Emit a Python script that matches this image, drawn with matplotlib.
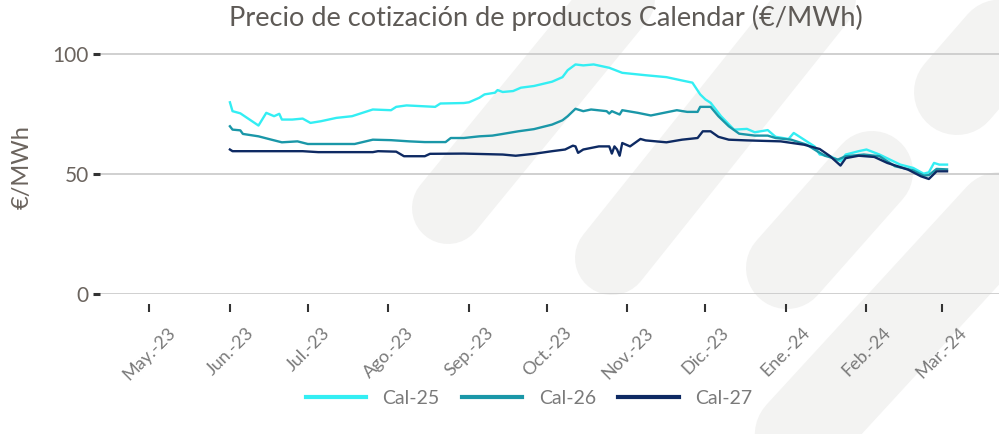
import matplotlib
matplotlib.use("Agg")
import matplotlib.pyplot as plt
from matplotlib.lines import Line2D
import pandas as pd

plt.rcParams['font.family'] = ['Lato', 'DejaVu Sans']

title = "Precio de cotización de productos Calendar (€/MWh)"
ylabel = "€/MWh"
series_names = ["Cal-25", "Cal-26", "Cal-27"]
series_colors = ["#33EEF3", "#1A97A8", "#0E2A63"]

tick_dates = ["2023-05-01", "2023-06-01", "2023-07-01", "2023-08-01", "2023-09-01",
              "2023-10-01", "2023-11-01", "2023-12-01", "2024-01-01", "2024-02-01",
              "2024-03-01"]
tick_labels = ["May.-23", "Jun.-23", "Jul.-23", "Ago.-23", "Sep.-23", "Oct.-23",
               "Nov.-23", "Dic.-23", "Ene.-24", "Feb.-24", "Mar.-24"]
y_ticks = [0, 50, 100]

dates25 = ["2023-06-01", "2023-06-02", "2023-06-05", "2023-06-12", "2023-06-15", "2023-06-18",
           "2023-06-20", "2023-06-21", "2023-06-25", "2023-06-29",
           "2023-07-02", "2023-07-06", "2023-07-12", "2023-07-18", "2023-07-26",
           "2023-08-02", "2023-08-04", "2023-08-08", "2023-08-19", "2023-08-21", "2023-08-30",
           "2023-09-01", "2023-09-05", "2023-09-07", "2023-09-11", "2023-09-12", "2023-09-14",
           "2023-09-18", "2023-09-21", "2023-09-26",
           "2023-10-03", "2023-10-07", "2023-10-09", "2023-10-12", "2023-10-15", "2023-10-19",
           "2023-10-25", "2023-10-30",
           "2023-11-08", "2023-11-16", "2023-11-22", "2023-11-26", "2023-11-29",
           "2023-12-01", "2023-12-03", "2023-12-07", "2023-12-12", "2023-12-17", "2023-12-20",
           "2023-12-25", "2023-12-28",
           "2024-01-02", "2024-01-04", "2024-01-07", "2024-01-12", "2024-01-14", "2024-01-18",
           "2024-01-22", "2024-01-24", "2024-01-29",
           "2024-02-01", "2024-02-06", "2024-02-14", "2024-02-19", "2024-02-23", "2024-02-25",
           "2024-02-27", "2024-02-29",
           "2024-03-03"]
cal25 = [80.0, 76.3, 75.4, 70.3, 75.6, 74.2, 75.2, 72.8, 72.8, 73.2,
         71.4, 72.1, 73.5, 74.2, 77.0,
         76.7, 78.1, 78.7, 78.1, 79.5, 79.7,
         80.0, 81.9, 83.3, 84.0, 85.1, 84.3, 84.7, 86.1, 86.8,
         88.6, 90.5, 93.4, 95.8, 95.4, 95.8, 94.4, 92.3,
         91.3, 90.5, 89.1, 88.2, 83.3,
         81.2, 79.8, 74.2, 68.6, 68.9, 67.5, 68.4, 65.6,
         64.7, 67.2, 65.1, 61.6, 58.2, 57.5, 55.4, 58.2, 59.6,
         60.3, 58.2, 54.0, 52.6, 50.2, 50.8, 54.7, 54.0,
         54.0]

dates26 = ["2023-06-01", "2023-06-02", "2023-06-05", "2023-06-06", "2023-06-12", "2023-06-17",
           "2023-06-21", "2023-06-27",
           "2023-07-01", "2023-07-19", "2023-07-26",
           "2023-08-02", "2023-08-09", "2023-08-15", "2023-08-23", "2023-08-25", "2023-08-30",
           "2023-09-05", "2023-09-10", "2023-09-14", "2023-09-20", "2023-09-26",
           "2023-10-03", "2023-10-07", "2023-10-09", "2023-10-12", "2023-10-15", "2023-10-18",
           "2023-10-24", "2023-10-25", "2023-10-26", "2023-10-29", "2023-10-30",
           "2023-11-05", "2023-11-10", "2023-11-15", "2023-11-20", "2023-11-24", "2023-11-28",
           "2023-11-29",
           "2023-12-03", "2023-12-06", "2023-12-10", "2023-12-14", "2023-12-20", "2023-12-25",
           "2023-12-28",
           "2024-01-03", "2024-01-09", "2024-01-13", "2024-01-16", "2024-01-21", "2024-01-24",
           "2024-01-31",
           "2024-02-06", "2024-02-12", "2024-02-19", "2024-02-23", "2024-02-25", "2024-02-28",
           "2024-03-03"]
cal26 = [70.0, 68.6, 68.3, 66.8, 65.8, 64.4, 63.3, 63.7,
         62.6, 62.6, 64.4,
         64.2, 63.7, 63.4, 63.4, 65.1, 65.1,
         65.8, 66.1, 66.8, 67.9, 68.8,
         70.7, 72.5, 74.2, 77.3, 76.3, 77.0, 76.3, 75.3, 76.3, 74.9, 76.7,
         75.6, 74.5, 75.6, 76.7, 76.0, 76.0, 78.1,
         78.1, 74.2, 70.0, 66.9, 66.1, 66.1, 65.1,
         64.4, 62.3, 59.6, 57.7, 56.1, 57.5, 58.2,
         57.5, 53.3, 51.6, 49.4, 49.6, 52.2,
         52.0]

dates27 = ["2023-06-01", "2023-06-02", "2023-06-29",
           "2023-07-05", "2023-07-26", "2023-07-28",
           "2023-08-04", "2023-08-07", "2023-08-15", "2023-08-17", "2023-08-30",
           "2023-09-14", "2023-09-19", "2023-09-26",
           "2023-10-03", "2023-10-08", "2023-10-11", "2023-10-12", "2023-10-13", "2023-10-15",
           "2023-10-21", "2023-10-25", "2023-10-26", "2023-10-27", "2023-10-28", "2023-10-29",
           "2023-10-30",
           "2023-11-02", "2023-11-06", "2023-11-08", "2023-11-16", "2023-11-22", "2023-11-28",
           "2023-11-30",
           "2023-12-03", "2023-12-06", "2023-12-10", "2023-12-17", "2023-12-30",
           "2024-01-08", "2024-01-14", "2024-01-18", "2024-01-22", "2024-01-24", "2024-01-29",
           "2024-02-04", "2024-02-09", "2024-02-17", "2024-02-22", "2024-02-25", "2024-02-28",
           "2024-03-03"]
cal27 = [60.3, 59.6, 59.6,
         59.2, 59.2, 59.6,
         59.4, 57.5, 57.5, 58.5, 58.6,
         58.2, 57.7, 58.5,
         59.6, 60.3, 61.9, 61.6, 58.9, 60.3, 61.6, 61.6, 58.6, 61.6, 60.3, 57.7, 63.0,
         61.6, 64.7, 64.1, 63.3, 64.4, 65.1, 67.9,
         67.9, 65.6, 64.4, 64.1, 63.7,
         62.3, 60.5, 57.5, 53.6, 56.7, 57.7,
         57.2, 54.7, 51.9, 49.1, 48.0, 51.2,
         51.2]

W, H = 999, 434
fig = plt.figure(figsize=(W / 100, H / 100), dpi=100)
fig.patch.set_facecolor("white")

# decorative watermark capsules (pixel coords, y from top)
def fpt(x, y):
    return x / W, (H - y) / H

bands = [((448, 208), (700, -100), 72),
         ((612, 258), (850, -40), 74),
         ((787, 268), (872, 172), 82),
         ((957, 92), (1150, -130), 86),
         ((740, 500), (1080, 130), 90)]
for (x0, y0), (x1, y1), w in bands:
    a = fpt(x0, y0)
    b = fpt(x1, y1)
    ln = Line2D([a[0], b[0]], [a[1], b[1]], transform=fig.transFigure,
                color="#F3F3F2", lw=w * 0.72, solid_capstyle="round", zorder=-5)
    fig.add_artist(ln)

ax = fig.add_axes([100 / W, (H - 294) / H, (W - 100) / W, 254 / H])
ax.patch.set_alpha(0)
ax.set_zorder(1)

all_data = [(dates25, cal25), (dates26, cal26), (dates27, cal27)]
for (d, v), name, col in zip(all_data, series_names, series_colors):
    ax.plot(pd.to_datetime(d), v, color=col, lw=1.7, label=name, zorder=3)

ax.set_ylim(0, 106)
ax.set_xlim(pd.Timestamp("2023-04-12"), pd.Timestamp("2024-03-23"))
ax.set_yticks(y_ticks)
ax.set_yticklabels([str(t) for t in y_ticks])
ax.set_xticks(pd.to_datetime(tick_dates))
ax.set_xticklabels(tick_labels)

for s in ["top", "right", "left"]:
    ax.spines[s].set_visible(False)
ax.spines["bottom"].set_position(("outward", 7))
ax.spines["bottom"].set_visible(False)

ax.grid(axis="y", color="#C8C8C8", lw=1.2)
ax.grid(axis="x", visible=False)
ax.tick_params(axis="y", length=5, width=2.2, color="#333333", pad=3,
               labelsize=15, labelcolor="#6B645E")
ax.tick_params(axis="x", length=6, width=1.5, color="#333333", pad=9,
               labelsize=13, labelcolor="#7A7A7A", labelrotation=45)

ax.set_ylabel(ylabel, fontsize=17, color="#6B645E", labelpad=14)
fig.text(546 / W, (H - 18) / H, title, fontsize=19.5, color="#5E5A56",
         ha="center", va="center")

leg = ax.legend(loc="center", bbox_to_anchor=(529 / W, (H - 398) / H),
                bbox_transform=fig.transFigure, ncol=3, frameon=False,
                fontsize=14, handlelength=3.1, handletextpad=0.85,
                columnspacing=1.15)
for t in leg.get_texts():
    t.set_color("#7A7A7A")
for lh in leg.get_lines():
    lh.set_linewidth(3)

fig.savefig("out.png", dpi=100, facecolor="white")
